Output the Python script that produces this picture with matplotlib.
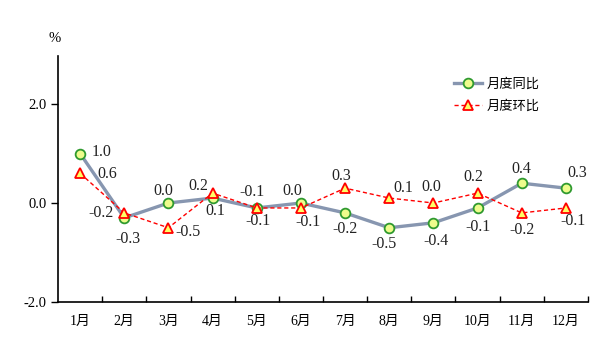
import matplotlib
matplotlib.use("Agg")
import matplotlib.pyplot as plt
import numpy as np

months = ["1月", "2月", "3月", "4月", "5月", "6月", "7月", "8月", "9月", "10月", "11月", "12月"]
yoy = [1.0, -0.3, 0.0, 0.1, -0.1, 0.0, -0.2, -0.5, -0.4, -0.1, 0.4, 0.3]
mom = [0.6, -0.2, -0.5, 0.2, -0.1, -0.1, 0.3, 0.1, 0.0, 0.2, -0.2, -0.1]
yticks = [-2.0, 0.0, 2.0]
series_names = ["月度同比", "月度环比"]

# label offsets in pixels (dx, dy)
yoy_off = [(21, 2), (4, -21), (-5, 12), (3, -13), (1, -13), (-9, 12), (0, -16), (-5, -16), (3, -18), (0, -19), (0, 14), (11, 15)]
mom_off = [(27, -1), (-23, 0), (20, -4), (-14, 7), (-5, 16), (7, -14), (-4, 12), (14, 10), (-2, 16), (-4, 16), (0, -17), (7, -13)]

FAM = ["Liberation Serif", "Noto Sans CJK SC", "DejaVu Sans"]
plt.rcParams["font.family"] = FAM

fig = plt.figure(figsize=(5.96, 3.55), dpi=100)
ax = fig.add_axes([58 / 596, 1 - 302 / 355, (588 - 58) / 596, (302 - 56) / 355])

x = np.arange(len(months))
ax.plot(x, yoy, color="#8796b0", lw=2.4, marker="o", ms=7, mfc="#eefc8c", mec="#2f9a2f", mew=1.3,
        label=series_names[0], zorder=3)
ax.plot(x, mom, color="#ff0000", lw=1.0, ls=(0, (3, 2)), marker="^", ms=7.5, mfc="#ffff66", mec="#ff0000",
        mew=1.3, label=series_names[1], zorder=4)

NUM = 11.5
for xi, v, (dx, dy) in zip(x, yoy, yoy_off):
    ax.annotate(f"{v:.1f}", (xi, v), xytext=(dx * 0.72, dy * 0.72), textcoords="offset points",
                ha="center", va="center", fontsize=NUM, color="#222222")
for xi, v, (dx, dy) in zip(x, mom, mom_off):
    ax.annotate(f"{v:.1f}", (xi, v), xytext=(dx * 0.72, dy * 0.72), textcoords="offset points",
                ha="center", va="center", fontsize=NUM, color="#222222")

ax.set_xlim(-0.5, len(months) - 0.5)
ax.set_ylim(-2.0, 2.97)
ax.set_yticks(yticks)
ax.set_yticklabels([f"{t:.1f}" for t in yticks], fontsize=10.5)
ax.set_xticks(x)
ax.set_xticklabels(months, fontsize=10)
ax.tick_params(axis="x", length=0, pad=9)
ax.set_xticks(np.arange(0.5, len(months) + 0.5, 1), minor=True)
ax.tick_params(axis="x", which="minor", direction="in", length=4, width=1)
ax.tick_params(axis="y", direction="out", length=5, width=1, pad=3)

for s in ["top", "right"]:
    ax.spines[s].set_visible(False)
for s in ["left", "bottom"]:
    ax.spines[s].set_linewidth(1.2)

ax.text(-0.006, 1.07, "%", transform=ax.transAxes, ha="center", va="center", fontsize=10.5)

leg = ax.legend(loc="upper left", bbox_to_anchor=((442 - 58) / 530, (302 - 66) / 246), frameon=False,
                handlelength=2.1, handletextpad=0.4, labelspacing=0.7,
                prop={"family": ["Noto Sans CJK SC"], "size": 9.5})

fig.savefig("out.png", dpi=100)
